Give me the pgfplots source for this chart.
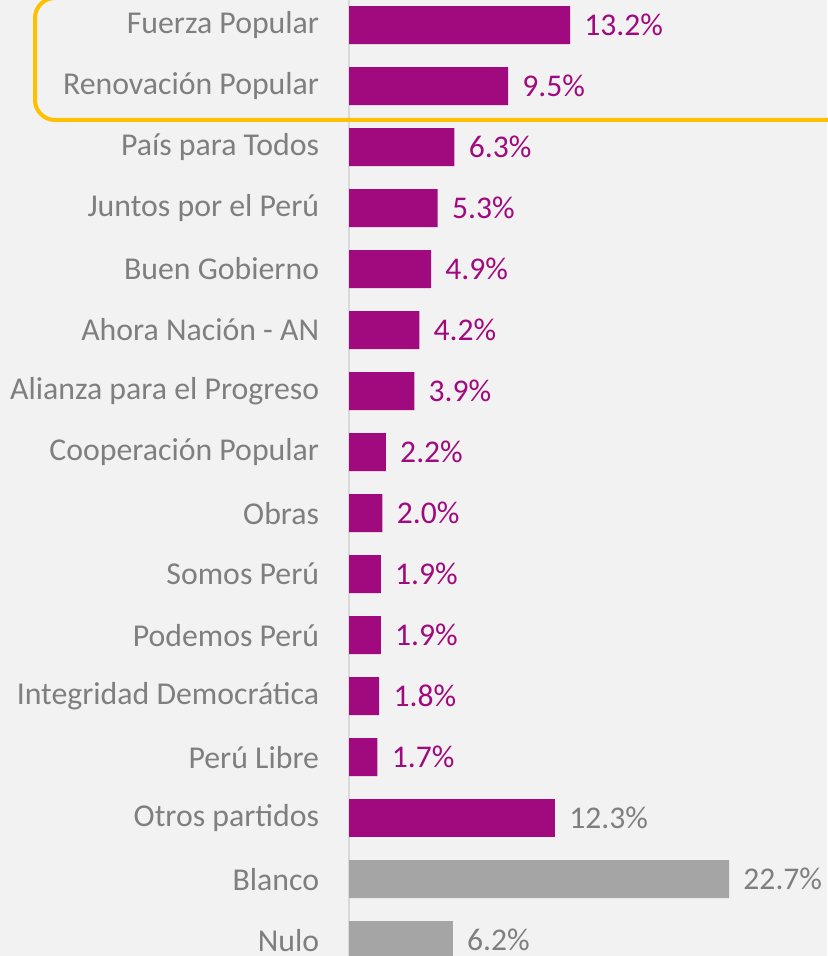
\documentclass[border=0pt]{standalone}
\usepackage{fontspec}
\setmainfont{Carlito}
\usepackage{pgfplots}
\pgfplotsset{compat=1.18}
\definecolor{bgray}{HTML}{F2F2F2}
\definecolor{partypurple}{HTML}{A00A7E}
\definecolor{votegray}{HTML}{A5A5A5}
\definecolor{labelgray}{HTML}{7F7F7F}
\definecolor{axisgray}{HTML}{D9D9D9}
\definecolor{boxyellow}{HTML}{FFC000}
\begin{document}
\begin{tikzpicture}
\fill[bgray] (0,0) rectangle (413.5pt,478pt);
\begin{axis}[
 at={(174.5pt,0pt)}, anchor=south west,
 scale only axis, width=239pt, height=478pt,
 xbar, bar width=19pt,
 xmin=0, xmax=28.55,
 ymin=-0.41, ymax=15.26, y dir=reverse,
 axis x line=none,
 axis y line*=left,
 y axis line style={draw=axisgray, line width=0.6pt, -},
 ytick={0,...,15},
 yticklabels={Fuerza Popular,Renovación Popular,País para Todos,Juntos por el Perú,Buen Gobierno,Ahora Nación - AN,Alianza para el Progreso,Cooperación Popular,Obras,Somos Perú,Podemos Perú,Integridad Democrática,Perú Libre,Otros partidos,Blanco,Nulo},
 ytick style={draw=none},
 yticklabel style={font=\fontsize{15.9}{18}\selectfont, text=labelgray, inner sep=0pt, xshift=-10.5pt},
 clip=false,
 nodes near coords={\pgfmathprintnumber[fixed,fixed zerofill,precision=1,assume math mode=true]{\pgfplotspointmeta}\%},
 point meta=x,
 every node near coord/.append style={font=\fontsize{15.8}{18}\selectfont, anchor=west, inner sep=0pt, xshift=7pt},
]
\addplot[bar shift=0pt, fill=partypurple, draw=none, nodes near coords style={text=partypurple}] coordinates {
 (13.2,0) (9.5,1) (6.3,2) (5.3,3) (4.9,4) (4.2,5) (3.9,6) (2.2,7)
 (2.0,8) (1.9,9) (1.9,10) (1.8,11) (1.7,12)};
\addplot[bar shift=0pt, fill=partypurple, draw=none, nodes near coords style={text=labelgray}] coordinates {
 (12.3,13)};
\addplot[bar shift=0pt, fill=votegray, draw=none, nodes near coords style={text=labelgray}] coordinates {
 (22.7,14) (6.2,15)};
\end{axis}
\draw[boxyellow, line width=2pt, rounded corners=10pt] (17.5pt,418pt) rectangle (440pt,479pt);
\pgfresetboundingbox
\useasboundingbox (0,0) rectangle (413.5pt,478pt);
\end{tikzpicture}
\end{document}
